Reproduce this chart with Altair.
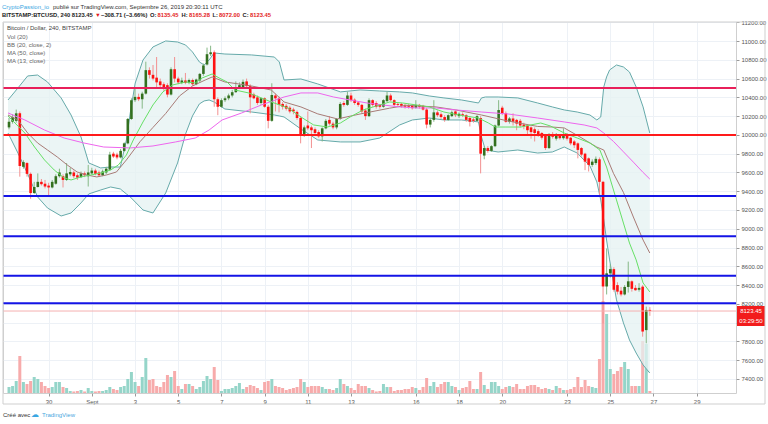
import altair as alt
import pandas as pd

FONT = "Liberation Sans, Arial, sans-serif"

# ---------------- data (BITSTAMP BTC/USD, 240-minute candles) ----------------
first_candle = "2019-08-28 04:00"
day_zero = "2019-08-31 00:00"          # time axis in days from Aug 31, 00:00 UTC

opens = [10080, 10140, 10150, 10230, 9660, 9700, 9585, 9380, 9445, 9500,
         9480, 9460, 9440, 9480, 9560, 9560, 9520, 9580, 9600, 9570,
         9550, 9590, 9560, 9590, 9620, 9600, 9570, 9600, 9630, 9800,
         9790, 9760, 9830, 9910, 10170, 10370, 10405, 10380, 10440, 10690,
         10640, 10610, 10570, 10540, 10530, 10430, 10700, 10600, 10555, 10580,
         10555, 10585, 10540, 10580, 10650, 10750, 10860, 10880, 10380, 10300,
         10370, 10390, 10420, 10455, 10510, 10500, 10570, 10520, 10430, 10400,
         10340, 10390, 10300, 10150, 10420, 10390, 10330, 10310, 10290, 10270,
         10245, 10180, 10000, 10100, 10080, 10060, 10030, 9985, 10070, 10160,
         10120, 10080, 10170, 10340, 10320, 10420, 10375, 10345, 10320, 10260,
         10200, 10370, 10340, 10320, 10300, 10360, 10420, 10370, 10330, 10330,
         10320, 10315, 10315, 10290, 10320, 10310, 10270, 10110, 10160, 10240,
         10220, 10190, 10160, 10200, 10250, 10200, 10220, 10210, 10180, 10165,
         10150, 10180, 9780, 9860, 9830, 9880, 10100, 10290, 10230, 10140,
         10175, 10160, 10150, 10110, 10100, 10080, 10060, 10040, 10020, 10000,
         9860, 10010, 9960, 9995, 9965, 10005, 9970, 9930, 9910, 9860,
         9800, 9750, 9680, 9700, 9740, 9500, 8385, 8525, 8570, 8400,
         8340, 8300, 8380, 8440, 8370, 8350, 8383, 7920, 8135.45]
highs = [10180, 10220, 10270, 10250, 9730, 9710, 9600, 9500, 9590, 9530,
         9520, 9490, 9520, 9580, 9640, 9580, 9700, 9650, 9620, 9590,
         9610, 9610, 9680, 9650, 9640, 9620, 9630, 9660, 9820, 9820,
         9810, 9850, 9920, 10180, 10390, 10490, 10440, 10460, 10780, 10720,
         10745, 10830, 10600, 10560, 10550, 10720, 10830, 10620, 10610, 10660,
         10600, 10600, 10600, 10660, 10760, 10930, 10950, 10900, 10400, 10390,
         10410, 10440, 10480, 10570, 10560, 10590, 10600, 10540, 10450, 10420,
         10400, 10400, 10320, 10550, 10440, 10410, 10350, 10330, 10310, 10290,
         10260, 10200, 10100, 10250, 10100, 10080, 10050, 10080, 10170, 10200,
         10140, 10180, 10350, 10360, 10460, 10450, 10390, 10360, 10330, 10280,
         10390, 10380, 10360, 10330, 10380, 10460, 10440, 10380, 10350, 10340,
         10330, 10330, 10330, 10370, 10330, 10320, 10290, 10180, 10370, 10260,
         10240, 10210, 10220, 10260, 10260, 10240, 10240, 10220, 10200, 10180,
         10210, 10200, 9880, 9880, 9890, 10110, 10370, 10310, 10250, 10190,
         10230, 10170, 10170, 10130, 10110, 10090, 10080, 10060, 10030, 10010,
         10020, 10030, 10020, 10010, 10070, 10020, 9980, 9945, 9920, 9870,
         9810, 9760, 9740, 9770, 9760, 9510, 8790, 8620, 8590, 8430,
         8380, 8400, 8650, 8450, 8400, 8420, 8400, 8170, 8165.28]
lows = [10060, 10120, 10130, 9555, 9640, 9555, 9320, 9370, 9440, 9460,
        9430, 9345, 9430, 9470, 9545, 9440, 9510, 9560, 9540, 9520,
        9540, 9550, 9450, 9580, 9570, 9555, 9560, 9580, 9620, 9755,
        9740, 9750, 9820, 9900, 10160, 10350, 10360, 10280, 10430, 10600,
        10580, 10500, 10510, 10470, 10400, 10420, 10560, 10540, 10540, 10540,
        10540, 10520, 10530, 10560, 10630, 10740, 10840, 10300, 10210, 10290,
        10350, 10370, 10400, 10450, 10490, 10490, 10500, 10230, 10380, 10320,
        10320, 10290, 10070, 10140, 10250, 10240, 10270, 10260, 10230, 10220,
        10160, 9910, 9980, 10050, 9860, 10000, 9970, 9930, 10060, 10100,
        10060, 10060, 10160, 10300, 10310, 10350, 10320, 10300, 10230, 10160,
        10190, 10300, 10280, 10280, 10290, 10350, 10360, 10300, 10300, 10290,
        10280, 10280, 10270, 10280, 10280, 10260, 10070, 10080, 10140, 10190,
        10170, 10140, 10150, 10190, 10190, 10180, 10190, 10140, 10090, 10130,
        10140, 9590, 9740, 9810, 9820, 9870, 10090, 10210, 10130, 10120,
        10100, 10050, 10080, 10060, 9999, 9960, 9930, 9980, 9950, 9840,
        9850, 9960, 9940, 9950, 9950, 9940, 9890, 9860, 9750, 9770,
        9625, 9610, 9660, 9680, 9360, 7990, 8300, 8480, 8330, 8300,
        8280, 8290, 8320, 8330, 8340, 8330, 7850, 7780, 8072]
closes = [10140, 10190, 10230, 9670, 9710, 9585, 9380, 9445, 9500, 9475,
          9450, 9440, 9500, 9560, 9600, 9520, 9590, 9605, 9560, 9545,
          9590, 9570, 9600, 9620, 9585, 9570, 9610, 9640, 9790, 9770,
          9760, 9830, 9910, 10170, 10370, 10405, 10380, 10440, 10690, 10640,
          10600, 10560, 10530, 10510, 10430, 10700, 10600, 10560, 10580, 10555,
          10585, 10540, 10590, 10650, 10740, 10860, 10880, 10380, 10300, 10370,
          10390, 10420, 10455, 10510, 10530, 10565, 10520, 10400, 10390, 10340,
          10390, 10300, 10150, 10425, 10390, 10320, 10300, 10280, 10250, 10250,
          10180, 10000, 10080, 10070, 10050, 10020, 9985, 10070, 10150, 10120,
          10080, 10170, 10330, 10320, 10420, 10370, 10340, 10320, 10250, 10200,
          10370, 10320, 10300, 10300, 10370, 10420, 10370, 10320, 10320, 10310,
          10300, 10300, 10285, 10320, 10300, 10270, 10110, 10160, 10240, 10210,
          10190, 10160, 10210, 10240, 10210, 10225, 10205, 10160, 10140, 10150,
          10200, 9800, 9860, 9830, 9880, 10100, 10265, 10230, 10140, 10175,
          10140, 10120, 10100, 10090, 10050, 10030, 10020, 10000, 9970, 9860,
          10000, 9980, 10000, 9965, 10005, 9960, 9910, 9890, 9840, 9790,
          9715, 9680, 9715, 9745, 9500, 8385, 8525, 8570, 8350, 8330,
          8300, 8380, 8440, 8360, 8345, 8370, 7905, 8135, 8123.45]
volumes = [1500, 1750, 3000, 9250, 2750, 2250, 3000, 4000, 3500, 2750,
           1750, 1250, 1500, 2750, 2750, 1500, 1250, 500, 380, 500,
           750, 380, 1250, 500, 380, 500, 500, 750, 1500, 1000,
           750, 1500, 1750, 3500, 5250, 2750, 1750, 4000, 8750, 3250,
           3500, 1750, 1500, 2750, 4500, 4000, 5500, 1750, 1000, 2250,
           2250, 1750, 1000, 1500, 3000, 4250, 3500, 6500, 3250, 500,
           1000, 1000, 1250, 1750, 2500, 1000, 1500, 2000, 1750, 1250,
           750, 2750, 3000, 3500, 1750, 1500, 1250, 750, 1000, 1250,
           1500, 3500, 2750, 1500, 1750, 1750, 1750, 1500, 1000, 1000,
           750, 1250, 3500, 2250, 1750, 1250, 750, 2250, 1750, 1750,
           1250, 750, 380, 500, 2250, 1500, 1500, 500, 750, 750,
           1000, 1000, 1500, 1250, 750, 1500, 3750, 1750, 2750, 1500,
           2250, 2750, 2750, 1750, 1500, 750, 1250, 1500, 3000, 1000,
           1000, 5250, 2000, 1000, 2750, 2750, 1750, 1000, 1500, 1750,
           1500, 2250, 1000, 1000, 1750, 2000, 2000, 1500, 1000, 1250,
           1000, 750, 1750, 1250, 750, 750, 1000, 1500, 4000, 1500,
           3250, 1750, 1500, 1250, 8500, 23000, 19750, 6000, 4750, 5500,
           6500, 7750, 6000, 1750, 1750, 1750, 13000, 12250, 500]

# indicators (time in days from Aug 31 00:00)
bb_t = [-2.88, -2.42, -1.97, -1.51, -1.05, -0.42, 0.04, 0.50, 0.86, 1.41,
        1.87, 2.32, 2.60, 2.78, 3.01, 3.37, 3.83, 4.42, 4.97, 5.34,
        5.66, 5.98, 6.20, 6.43, 6.66, 7.16, 8.40, 9.45, 9.68, 9.90,
        10.68, 11.46, 12.51, 13.42, 14.33, 15.25, 15.84, 16.62, 17.30, 18.12,
        18.90, 19.04, 19.22, 19.81, 20.72, 21.64, 22.32, 22.87, 23.47, 24.06,
        24.38, 24.56, 24.70, 24.83, 24.97, 25.29, 25.61, 25.89, 26.20, 26.52, 26.83]
bb_upper = [10372, 10500, 10628, 10638, 10564, 10394, 10212, 9978, 9701, 9648,
            9658, 9658, 9946, 10234, 10553, 10798, 10937, 11001, 10990, 10958,
            10884, 10777, 10745, 10798, 10873, 10862, 10852, 10830, 10777, 10585,
            10596, 10543, 10458, 10479, 10468, 10458, 10447, 10415, 10394, 10372,
            10340, 10394, 10404, 10404, 10394, 10340, 10298, 10266, 10244, 10212,
            10159, 10191, 10511, 10617, 10692, 10745, 10724, 10670, 10511, 10298, 10020]
bb_lower = [10020, 9807, 9584, 9339, 9221, 9136, 9168, 9275, 9371, 9413,
            9445, 9424, 9371, 9339, 9285, 9200, 9168, 9381, 9701, 10010,
            10202, 10330, 10362, 10372, 10351, 10276, 10244, 10212, 10202, 10191,
            10063, 9946, 9925, 9925, 9967, 10106, 10159, 10180, 10159, 10159,
            10138, 9978, 9839, 9818, 9839, 9807, 9818, 9871, 9807, 9669,
            9499, 9307, 9094, 8880, 8668, 8242, 7997, 7815, 7676, 7549, 7463]
basis_t = [-2.88, -2.42, -1.97, -1.51, -1.05, -0.60, -0.14, 0.32, 0.77, 1.23,
           1.68, 2.14, 2.60, 3.24, 3.83, 4.42, 5.06, 5.66, 6.25, 6.57,
           7.16, 7.80, 8.40, 9.31, 9.90, 10.68, 11.46, 12.37, 13.42, 14.79,
           15.57, 16.94, 17.85, 19.04, 20.27, 21.64, 22.32, 22.87, 23.60, 24.38,
           24.70, 25.15, 25.61, 26.07, 26.52, 26.83]
basis = [10212, 10159, 10020, 9914, 9839, 9765, 9680, 9605, 9573, 9552,
         9573, 9605, 9733, 9930, 10079, 10228, 10415, 10521, 10585, 10617,
         10564, 10543, 10521, 10478, 10351, 10298, 10224, 10170, 10223, 10285,
         10315, 10298, 10266, 10212, 10148, 10090, 10084, 10074, 9978, 9870,
         9839, 9590, 9387, 9125, 8880, 8742]
ma13_t = [-2.88, -2.10, -1.65, -1.19, -0.74, -0.28, 0.04, 0.50, 0.95, 1.41,
          1.87, 2.23, 2.60, 2.92, 3.37, 3.83, 4.29, 4.74, 5.34, 5.79,
          6.11, 6.57, 6.89, 7.26, 7.62, 8.26, 8.85, 9.31, 10.08, 10.68,
          11.27, 11.91, 12.51, 12.96, 13.56, 14.33, 14.79, 15.39, 16.02, 16.62,
          17.30, 17.99, 18.90, 19.36, 19.68, 20.13, 20.86, 21.32, 21.78, 22.23,
          22.87, 23.47, 24.06, 24.52, 24.83, 25.15, 25.61, 25.89, 26.20, 26.52, 26.83]
ma13 = [10202, 10020, 9871, 9733, 9626, 9541, 9520, 9552, 9573, 9594,
        9626, 9680, 9786, 9946, 10138, 10319, 10458, 10532, 10564, 10553,
        10607, 10649, 10607, 10564, 10479, 10447, 10394, 10351, 10287, 10191,
        10106, 10084, 10127, 10191, 10266, 10319, 10351, 10340, 10319, 10298,
        10244, 10212, 10180, 10127, 10084, 10084, 10084, 10106, 10127, 10095,
        10020, 9967, 9914, 9839, 9658, 9413, 9061, 8848, 8668, 8423, 8327]
ma50_t = [-2.88, -2.10, -1.19, -0.28, 0.63, 1.55, 2.78, 3.83, 4.88, 5.79,
          6.43, 7.03, 7.94, 8.85, 9.90, 10.68, 11.46, 12.19, 12.96, 13.74,
          14.47, 15.25, 16.02, 16.94, 17.85, 19.04, 20.27, 21.64, 22.87, 23.79,
          24.38, 24.70, 25.15, 25.61, 26.07, 26.52, 26.83]
ma50 = [10234, 10159, 10052, 9967, 9914, 9871, 9861, 9882, 9925, 9967,
        10052, 10159, 10234, 10319, 10404, 10447, 10447, 10404, 10372, 10340,
        10319, 10298, 10287, 10287, 10266, 10244, 10223, 10180, 10138, 10106,
        10074, 10020, 9930, 9820, 9710, 9600, 9530]

levels = [10500, 10000, 9350, 8920, 8500, 8205]
level_colors = ["#e8205a", "#ff1a1a", "#1414e6", "#1414e6", "#1414e6", "#1414e6"]
last_price = 8123.45
countdown = "03:29:50"

date_ticks = [-1, 1, 3, 5, 7, 9, 11, 13, 16, 18, 20, 23, 25, 27, 29]
date_labels = ["30", "Sept", "3", "5", "7", "9", "11", "13", "16", "18", "20", "23", "25", "27", "29"]
price_ticks = [7400, 7600, 7800, 8000, 8200, 8400, 8600, 8800, 9000, 9200,
               9400, 9600, 9800, 10000, 10200, 10400, 10600, 10800, 11000, 11200]
hidden_price_label = 8000   # covered by the last-price tag in the original

n = len(closes)
for arr in (opens, highs, lows, volumes):
    if len(arr) != n:
        raise ValueError("length mismatch %d vs %d" % (len(arr), n))
for a, b in ((bb_t, bb_upper), (bb_t, bb_lower), (basis_t, basis), (ma13_t, ma13), (ma50_t, ma50)):
    if len(a) != len(b):
        raise ValueError("indicator length mismatch %d vs %d" % (len(a), len(b)))

times = pd.date_range(first_candle, periods=n, freq="4h")
tday = (times - pd.Timestamp(day_zero)) / pd.Timedelta(days=1)
df = pd.DataFrame({"t": tday, "open": opens, "high": highs, "low": lows,
                   "close": closes, "volume": volumes})

# ---------------- scales / axes ----------------
W, H = 733, 371
xscale = alt.Scale(domain=[-2.88, 30.59], nice=False, zero=False)
yscale = alt.Scale(domain=[7250, 11203], nice=False, zero=False)
vscale = alt.Scale(domain=[0, 92750], nice=False)

lab_expr = " : ".join("datum.value == %s ? '%s'" % (v, l) for v, l in zip(date_ticks, date_labels)) + " : ''"
x_axis = alt.Axis(values=date_ticks, labelExpr=lab_expr, grid=True, gridColor="#edf1f6",
                  tickSize=3, tickColor="#9a9a9a", domain=False, labelFontSize=6,
                  labelColor="#555555", labelFont=FONT, labelPadding=2, title=None,
                  labelFlush=False, labelOverlap=False)
y_axis = alt.Axis(orient="right", values=price_ticks,
                  labelExpr="datum.value == %d ? '' : format(datum.value, '.2f')" % hidden_price_label,
                  grid=True, gridColor="#edf1f6", tickSize=3, tickColor="#9a9a9a", domain=False,
                  labelFontSize=6, labelColor="#555555", labelFont=FONT, labelPadding=2,
                  title=None, labelOverlap=False, labelFlush=False)

X = alt.X("t:Q", scale=xscale, axis=x_axis)


def YP(field):
    return alt.Y(field, scale=yscale, axis=y_axis)


up_cond = "datum.close >= datum.open"

# ---------------- layers ----------------
vol = alt.Chart(df).mark_bar(width=3).encode(
    x=X,
    y=alt.Y("volume:Q", scale=vscale, axis=None),
    color=alt.condition(up_cond, alt.value("#95d5c9"), alt.value("#f7abab")),
)

band_df = pd.DataFrame({"t": bb_t, "upper": bb_upper, "lower": bb_lower})
band_fill = alt.Chart(band_df).mark_area(color="#e4f1f1", opacity=0.75).encode(
    x=X, y=YP("lower:Q"), y2="upper:Q")
band_up = alt.Chart(band_df).mark_line(color="#66aaaa", strokeWidth=1).encode(
    x=X, y=YP("upper:Q"))
band_lo = alt.Chart(band_df).mark_line(color="#66aaaa", strokeWidth=1).encode(
    x=X, y=YP("lower:Q"))


def line(ts, vals, color):
    d = pd.DataFrame({"t": ts, "v": vals})
    return alt.Chart(d).mark_line(color=color, strokeWidth=1).encode(x=X, y=YP("v:Q"))


basis_line = line(basis_t, basis, "#a87b76")
ma50_line = line(ma50_t, ma50, "#ee66ee")
ma13_line = line(ma13_t, ma13, "#66e066")

wicks = alt.Chart(df).mark_rule(strokeWidth=1).encode(
    x=X, y=YP("low:Q"), y2="high:Q",
    color=alt.condition(up_cond, alt.value("#86b886"), alt.value("#f29090")),
)
bodies = alt.Chart(df).mark_bar(width=2.6).encode(
    x=X, y=YP("open:Q"), y2="close:Q",
    color=alt.condition(up_cond, alt.value("#33701f"), alt.value("#ff1111")),
)

lp_df = pd.DataFrame({"p": [last_price]})
last_line = alt.Chart(lp_df).mark_rule(color="#f5b0b0", strokeWidth=1).encode(y=YP("p:Q"))

lev_df = pd.DataFrame({"price": levels, "color": level_colors})
level_rules = alt.Chart(lev_df).mark_rule(strokeWidth=2).encode(
    y=YP("price:Q"), color=alt.Color("color:N", scale=None))

price_box = alt.Chart(lp_df).mark_rect(color="#f21c1c", yOffset=-5, y2Offset=15).encode(
    x=alt.value(734), x2=alt.value(762), y=YP("p:Q"), y2="p:Q")
price_txt = alt.Chart(lp_df).mark_text(color="white", fontSize=6, font=FONT,
                                       baseline="middle", align="center").encode(
    x=alt.value(748), y=YP("p:Q"), text=alt.Text("p:Q", format=".2f"))
count_txt = alt.Chart(lp_df).mark_text(color="white", fontSize=6, font=FONT, dy=10,
                                       baseline="middle", align="center", text=countdown).encode(
    x=alt.value(748), y=YP("p:Q"))

price_group = alt.layer(band_fill, band_up, band_lo, wicks, bodies, basis_line,
                        ma50_line, ma13_line, last_line, level_rules,
                        price_box, price_txt, count_txt)

one = pd.DataFrame({"v": [0]})


def label(text, x, y, color="#333333", size=6, weight="normal"):
    return alt.Chart(one).mark_text(text=text, align="left", baseline="middle",
                                    fontSize=size, fontWeight=weight, color=color,
                                    font=FONT).encode(x=alt.value(x), y=alt.value(y))


frame = alt.Chart(one).mark_rect(fill="transparent", stroke="#cfcfcf", strokeWidth=1).encode(
    x=alt.value(0), x2=alt.value(762), y=alt.value(0), y2=alt.value(382))

dark = "#222222"
red = "#e31b1b"
texts = [
    label("CryptoPassion_io", -1, -15.5, "#3aa6e2"),
    label("publié sur TradingView.com, Septembre 26, 2019 20:30:11 UTC", 50, -15.5, "#333333"),
    label("BITSTAMP:BTCUSD, 240 8123.45", -1, -7.5, dark, 5.8, "bold"),
    label("▼", 92, -7.5, red, 5.8),
    label("−308.71 (−3.66%)", 98, -7.5, dark, 5.8, "bold"),
    label("O:", 147, -7.5, dark, 5.8, "bold"),
    label("8135.45", 154.5, -7.5, red, 5.8, "bold"),
    label("H:", 178.5, -7.5, dark, 5.8, "bold"),
    label("8165.28", 186, -7.5, red, 5.8, "bold"),
    label("L:", 209.5, -7.5, dark, 5.8, "bold"),
    label("8072.00", 216, -7.5, red, 5.8, "bold"),
    label("C:", 239.5, -7.5, dark, 5.8, "bold"),
    label("8123.45", 247, -7.5, red, 5.8, "bold"),
    label("Bitcoin / Dollar, 240, BITSTAMP", 4, 6.3, "#444444"),
    label("Vol (20)", 4, 14.7, "#666666"),
    label("BB (20, close, 2)", 4, 22.7, "#666666"),
    label("MA (50, close)", 4, 30.7, "#666666"),
    label("MA (13, close)", 4, 38.7, "#666666"),
    label("Créé avec", 0, 393, "#333333"),
    label("☁", 28, 393, "#3aa6e2", 8),
    label("TradingView", 39, 393, "#4aa8e0"),
]

chart = alt.layer(vol, price_group, frame, *texts).resolve_scale(y="independent").properties(
    width=W, height=H,
    padding={"left": 3, "top": 22, "right": 32, "bottom": 31},
    autosize=alt.AutoSizeParams(type="none"),
    background="white",
).configure_view(stroke="#cfcfcf", strokeWidth=1)

chart.save("out.html", embed_options={"renderer": "svg", "actions": False})
